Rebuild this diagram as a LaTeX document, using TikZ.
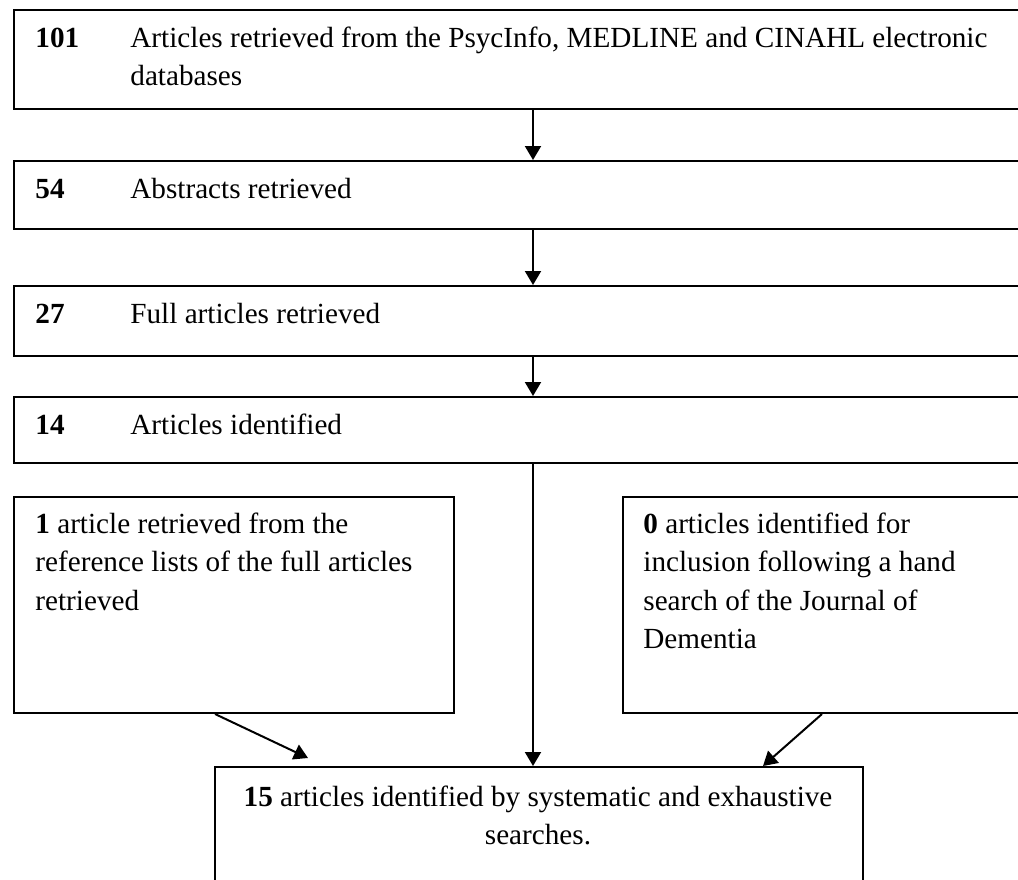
\documentclass[tikz,border=0pt]{standalone}
\usepackage{fontspec}
\setmainfont{Liberation Serif}
\usetikzlibrary{arrows.meta,calc}
\begin{document}
\begin{tikzpicture}[x=0.5pt,y=-0.5pt]
      \tikzstyle{box}=[draw, line width=1pt, rectangle, anchor=north west, inner sep=0pt]
      \tikzstyle{txt}=[anchor=base west, inner sep=0pt, align=left, font=\fontsize{14.6}{19.25}\selectfont]
      \tikzstyle{arr}=[line width=1pt, -{Triangle[width=8pt,length=7pt]}]

      \useasboundingbox (0,0) rectangle (1018,879);
      \clip (0,0) rectangle (1018,879);
      \coordinate (axis) at (533,0);

      \path (13,9) node[box, minimum width=520pt, minimum height=49.5pt] (b1) {};
      \foreach \i/\top/\h in {2/160/34, 3/285/35, 4/396/33}
      {
        \path (13,\top) node[box, minimum width=520pt, minimum height=\h pt] (b\i) {};
      }
      \path (13,496) node[box, minimum width=220pt, minimum height=108pt] (lb) {};
      \path (622,496) node[box, minimum width=210pt, minimum height=108pt] (rb) {};
      \path (214,766) node[box, minimum width=324pt, minimum height=75pt] (bb) {};

      \foreach \i/\y/\n/\t in {2/198/54/Abstracts retrieved,
                                3/323/27/Full articles retrieved,
                                4/434/14/Articles identified}
      {
        \path (35,\y) node[txt] (n\i) {\textbf{\n}};
        \path (130,\y) node[txt] (t\i) {\t};
      }
      \path (35,47) node[txt] (n1) {\textbf{101}};
      \path (130,85.5) node[txt] (t1)
        {Articles retrieved from the PsycInfo, MEDLINE and CINAHL electronic\\databases};

      \path (35,610) node[txt] (tl)
        {\textbf{1} article retrieved from the\\reference lists of the full articles\\retrieved};
      \path (643,648.5) node[txt] (tr)
        {\textbf{0} articles identified for\\inclusion following a hand\\search of the Journal of\\Dementia};
      \path (538,844.5) node[txt, anchor=base, align=center] (tb)
        {\textbf{15} articles identified by systematic and exhaustive\\searches.};

      \draw[arr] (b1.south -| axis) -- (b2.north -| axis);
      \draw[arr] (b2.south -| axis) -- (b3.north -| axis);
      \draw[arr] (b3.south -| axis) -- (b4.north -| axis);
      \draw[arr] (b4.south -| axis) -- (bb.north -| axis);
      \draw[arr] ($(lb.south west)+(202,0)$) -- ($(bb.north west)+(94,-8)$);
      \draw[arr] ($(rb.south west)+(200,0)$) -- ($(bb.north west)+(549,0)$);
    \end{tikzpicture}
\end{document}
